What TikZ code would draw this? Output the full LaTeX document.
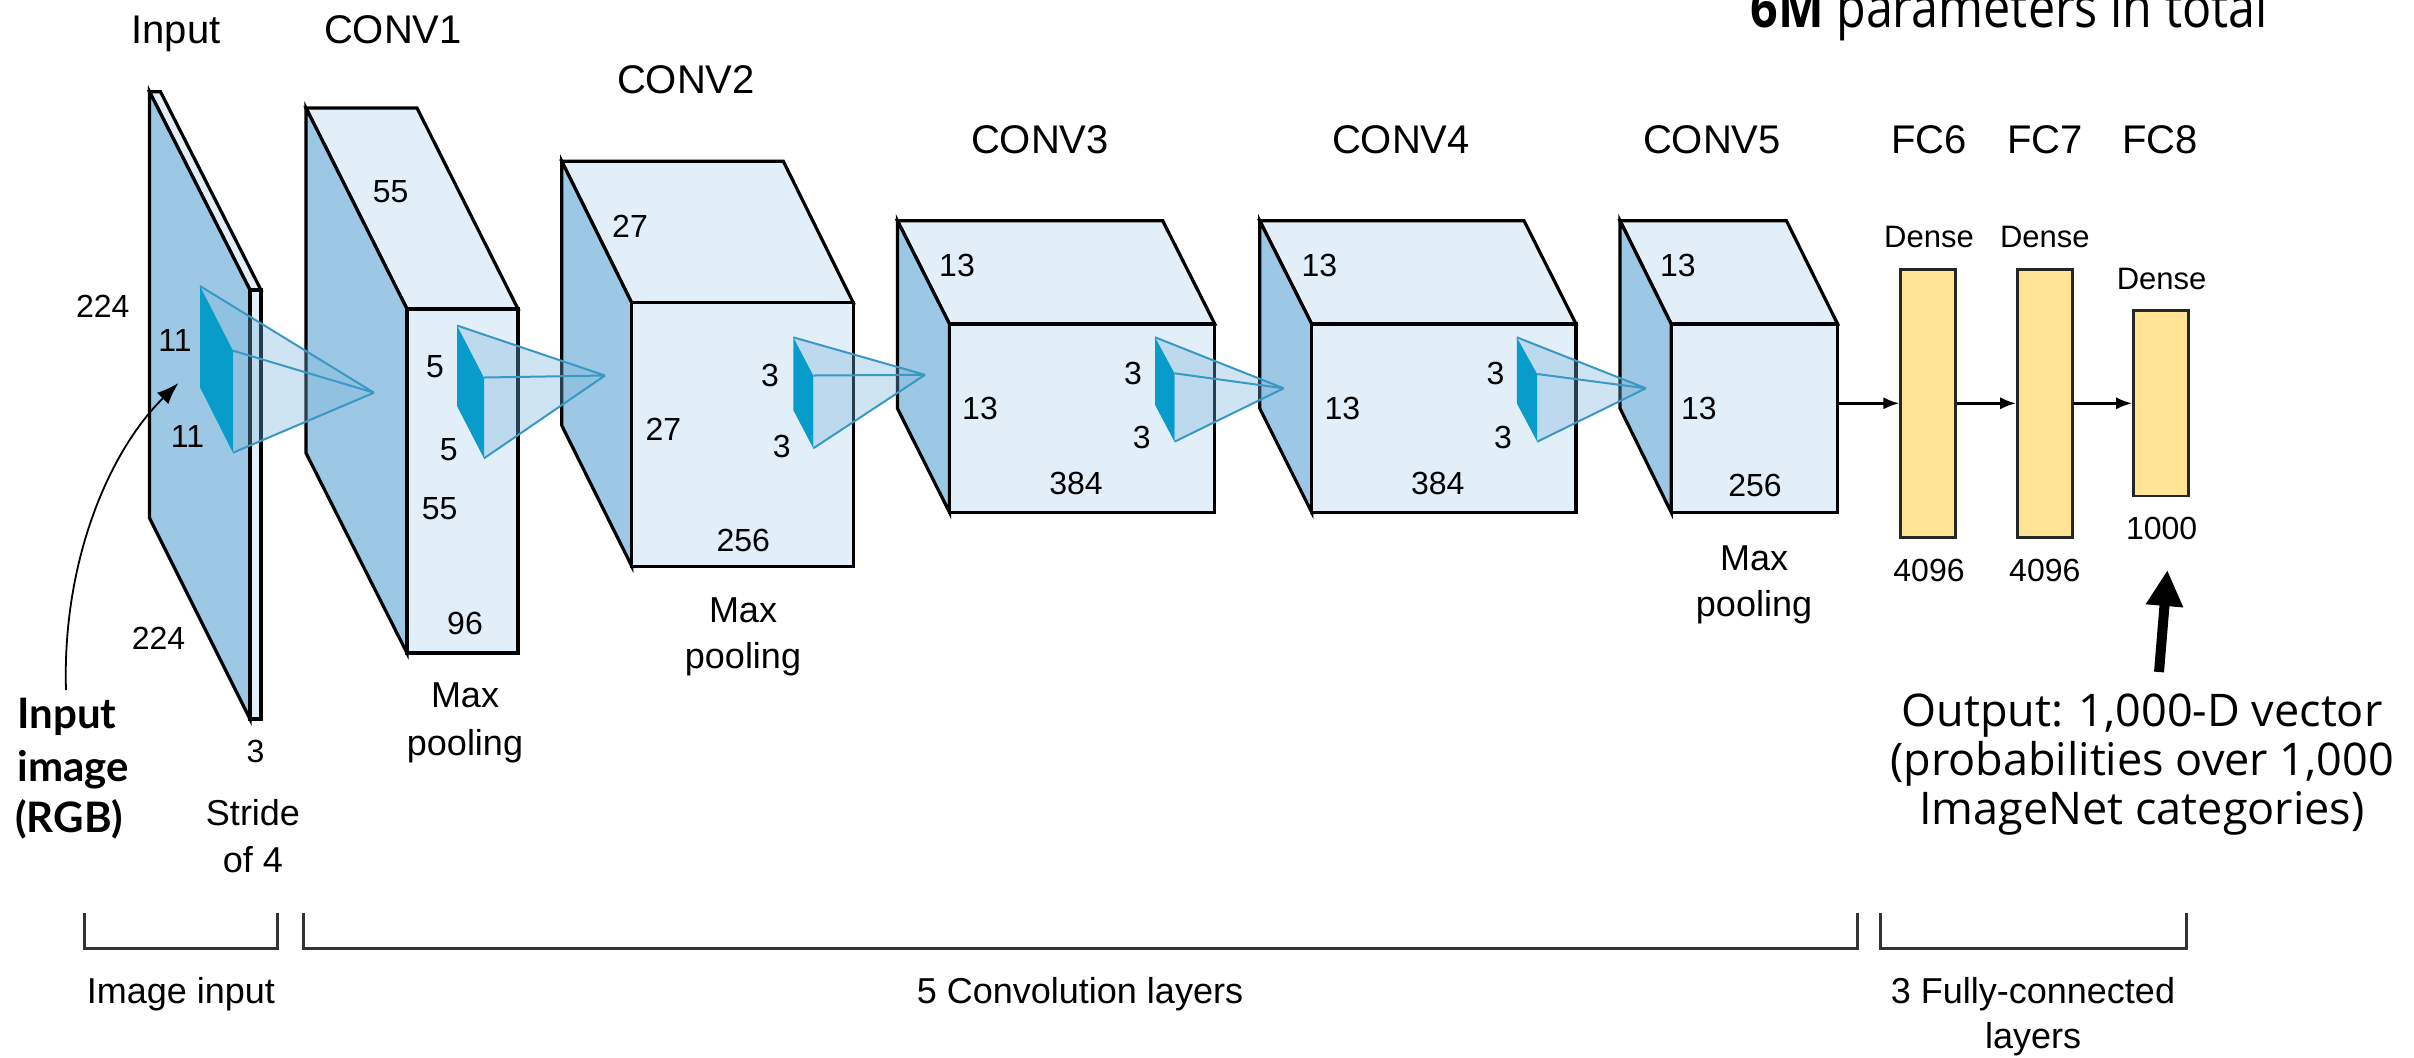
\documentclass[tikz,border=0pt]{standalone}
\usepackage{fontspec}
\setmainfont{Liberation Sans}
\newfontfamily\segoe{Open Sans}
\newfontfamily\gillb{Lato}
\usetikzlibrary{arrows.meta}
\definecolor{facelight}{RGB}{226,238,248}
\definecolor{faceblue}{RGB}{157,200,229}
\definecolor{kdarkc}{RGB}{8,156,202}
\definecolor{pyredge}{RGB}{58,152,196}
\definecolor{pyrfillc}{RGB}{120,180,220}
\definecolor{fcyellow}{RGB}{255,228,150}
\tikzset{
 lbl/.style={font=\fontsize{20}{24}\selectfont, inner sep=0pt, anchor=base},
 numlbl/.style={font=\fontsize{16}{19}\selectfont, inner sep=0pt},
 midlbl/.style={font=\fontsize{18}{22}\selectfont, inner sep=0pt, anchor=base},
 denselbl/.style={font=\fontsize{15.5}{18}\selectfont, inner sep=0pt, anchor=base},
 blkedge/.style={draw=black, line width=1.6pt},
 lightface/.style={blkedge, fill=facelight},
 blueface/.style={blkedge, fill=faceblue},
 kdark/.style={fill=kdarkc},
 pyrfill/.style={fill=pyrfillc, fill opacity=0.35},
 pyrline/.style={draw=pyredge, line width=1pt},
 fcbox/.style={draw=black!85, line width=1.3pt, fill=fcyellow, minimum width=27.5pt, inner sep=0pt},
 fcarrow/.style={-{Latex[length=8pt,width=6pt]}, line width=1.2pt},
 inarrow/.style={-{Latex[length=11pt,width=8pt]}, line width=0.9pt},
 bigarrow/.style={-{Triangle[length=18pt,width=17.5pt]}, line width=5pt},
 bracket/.style={draw=black!80, line width=1.5pt},
 boldlbl/.style={font=\gillb\bfseries\fontsize{21}{25}\selectfont, inner sep=0pt, anchor=base west},
 outtxt/.style={font=\segoe\fontsize{22.5}{24.5}\selectfont, inner sep=0pt, anchor=base},
}
\newcommand\drawblock[7]{%
  \pgfmathsetmacro\bxr{#1+#5-#4}
  \path[lightface] (#1,#2) -- (\bxr,#2) -- (#5,#6) -- (#4,#6) -- cycle;
  \path[blueface] (#1,#2) -- (#4,#6) -- (#4,#7) -- (#1,#3) -- cycle;
  \path[lightface] (#4,#6) rectangle (#5,#7);
}
\newcommand\kdarkquad[1]{\fill[kdark] (#1a) -- (#1b) -- (#1c) -- (#1d) -- cycle;}
\newcommand\kpyr[1]{%
  \fill[pyrfill] (#1a) -- (#1p) -- (#1c) -- (#1b) -- cycle;
  \draw[pyrline] (#1a) -- (#1p) (#1b) -- (#1p) (#1c) -- (#1p);
}
\begin{document}
\begin{tikzpicture}[x=0.5pt,y=-0.5pt]
\useasboundingbox (0,0) rectangle (2414,1057);
\clip (0,0) rectangle (2414,1057);
\fill[white] (0,0) rectangle (2414,1057);

% kernel coordinates
\coordinate (k0a) at (200,286);   \coordinate (k0b) at (233,350.7);
\coordinate (k0c) at (233,452.7); \coordinate (k0d) at (200,387.3);
\coordinate (k0p) at (374,392.7);
\coordinate (k1a) at (457,325.5); \coordinate (k1b) at (484,377.5);
\coordinate (k1c) at (484,458.3); \coordinate (k1d) at (457,406);
\coordinate (k1p) at (605,375.5);
\coordinate (k2a) at (793.3,337.3); \coordinate (k2b) at (813.3,375.5);
\coordinate (k2c) at (813.3,448.3); \coordinate (k2d) at (793.3,410);
\coordinate (k2p) at (925,374.8);
\coordinate (k3a) at (1155.1,337.3); \coordinate (k3b) at (1174.5,373.3);
\coordinate (k3c) at (1174.5,441.7); \coordinate (k3d) at (1155.1,405);
\coordinate (k3p) at (1283.7,388.3);
\coordinate (k4a) at (1516.8,337.3); \coordinate (k4b) at (1537.2,374);
\coordinate (k4c) at (1537.2,441.7); \coordinate (k4d) at (1516.8,403.3);
\coordinate (k4p) at (1645.9,388.3);

% blocks and kernels
\drawblock{149.5}{91.7}{518}{250}{261}{290}{719}
\kdarkquad{k0}
\drawblock{306}{108}{453}{407}{518}{309}{653}
\kpyr{k0}
\kdarkquad{k1}
\drawblock{561.7}{161.2}{425.3}{631.7}{853.3}{302.8}{566.1}
\kpyr{k1}
\kdarkquad{k2}
\drawblock{897.4}{220.7}{408.3}{949.5}{1214.8}{324}{512.3}
\kpyr{k2}
\kdarkquad{k3}
\drawblock{1259.7}{220.7}{408.3}{1311.7}{1576}{324}{512.3}
\kpyr{k3}
\kdarkquad{k4}
\drawblock{1620}{220.7}{408.3}{1671.2}{1837.6}{324}{512.3}
\kpyr{k4}
\coordinate (c5r) at (1837.6,403.3);

% FC layers
\node[fcbox, minimum height=134pt] (fc6) at (1928.2,403.3) {};
\node[fcbox, minimum height=134pt] (fc7) at (2045,403.3) {};
\node[fcbox, minimum height=92.6pt] (fc8) at (2161,403.3) {};
\draw[fcarrow] (c5r) -- (fc6.west);
\draw[fcarrow] (fc6.east) -- (fc7.west);
\draw[fcarrow] (fc7.east) -- (fc8.west);

% top labels
\node[lbl] (tInput) at (176,43) {Input};
\node[lbl] (tC1) at (393,43) {CONV1};
\node[lbl] (tC2) at (686,93) {CONV2};
\node[lbl] (tC3) at (1040,153) {CONV3};
\node[lbl] (tC4) at (1401,153) {CONV4};
\node[lbl] (tC5) at (1712,153) {CONV5};
\node[lbl] (tF6) at (1929,153) {FC6};
\node[lbl] (tF7) at (2045,153) {FC7};
\node[lbl] (tF8) at (2160,153) {FC8};
\node[anchor=base west, inner sep=0pt, font=\segoe\fontsize{28}{32}\selectfont] (title) at (1750,27) {\scalebox{0.865}[1]{\textbf{6M} parameters in total}};

% input labels
\node[numlbl] (n224a) at (102.7,306.7) {224};
\node[numlbl] (n11a) at (175,340) {11};
\node[numlbl] (n11b) at (187.5,436.7) {11};
\node[numlbl] (n224b) at (158.5,638.3) {224};
\node[numlbl] (n3in) at (255.4,751.7) {3};
\node[midlbl] (stride1) at (253,825) {Stride};
\node[midlbl] (stride2) at (253,872) {of 4};

% CONV1 labels
\node[numlbl] (c1a) at (390.6,191.7) {55};
\node[numlbl] (c1b) at (435,366.7) {5};
\node[numlbl] (c1c) at (448.7,450) {5};
\node[numlbl] (c1d) at (439.7,508.3) {55};
\node[numlbl] (c1e) at (465,623.3) {96};
\node[midlbl] (mp1a) at (465,707) {Max};
\node[midlbl] (mp1b) at (465,755) {pooling};

% CONV2 labels
\node[numlbl] (c2a) at (630,226.3) {27};
\node[numlbl] (c2b) at (663.3,429.1) {27};
\node[numlbl] (c2c) at (770,375.5) {3};
\node[numlbl] (c2d) at (781.7,446.3) {3};
\node[numlbl] (c2e) at (743.3,540) {256};
\node[midlbl] (mp2a) at (743,622) {Max};
\node[midlbl] (mp2b) at (743,668) {pooling};

% CONV3 labels
\node[numlbl] (c3a) at (957,265) {13};
\node[numlbl] (c3b) at (980,408.3) {13};
\node[numlbl] (c3c) at (1133,373.3) {3};
\node[numlbl] (c3d) at (1141.8,437.3) {3};
\node[numlbl] (c3e) at (1076,483.3) {384};

% CONV4 labels
\node[numlbl] (c4a) at (1319.4,265) {13};
\node[numlbl] (c4b) at (1342.3,408.3) {13};
\node[numlbl] (c4c) at (1495.4,373.3) {3};
\node[numlbl] (c4d) at (1503,437.3) {3};
\node[numlbl] (c4e) at (1437.8,483.3) {384};

% CONV5 labels
\node[numlbl] (c5a) at (1677.8,265) {13};
\node[numlbl] (c5b) at (1698.8,408.3) {13};
\node[numlbl] (c5e) at (1755,485) {256};
\node[midlbl] (mp5a) at (1754,570) {Max};
\node[midlbl] (mp5b) at (1754,616) {pooling};

% FC labels
\node[denselbl] (d6) at (1929,247.7) {Dense};
\node[denselbl] (d7) at (2044.8,247.7) {Dense};
\node[denselbl] (d8) at (2161.6,289.3) {Dense};
\node[numlbl] (f6n) at (1929,570) {4096};
\node[numlbl] (f7n) at (2044.8,570) {4096};
\node[numlbl] (f8n) at (2161.6,528.3) {1000};

% input image label and arrow
\node[boldlbl] (ii1) at (17,728) {Input};
\node[boldlbl] (ii2) at (17,781) {image};
\node[boldlbl] (ii3) at (15,832) {(RGB)};
\coordinate (arrstart) at (66,690);
\coordinate (arrend) at (178.5,383);
\draw[inarrow] (arrstart) .. controls (62,560) and (110,450) .. (arrend);

% output text and arrow
\node[outtxt] (o1) at (2142,726) {Output: 1,000-D vector};
\node[outtxt] (o2) at (2142,775) {(probabilities over 1,000};
\node[outtxt] (o3) at (2142,824) {ImageNet categories)};
\coordinate (otail) at (2159,672);
\coordinate (otip) at (2167.4,570);
\draw[bigarrow] (otail) -- (otip);

% brackets
\draw[bracket] (84.6,913) |- (277,948) -- (277,913);
\draw[bracket] (303,913) |- (1857,948) -- (1857,913);
\draw[bracket] (1880,913) |- (2186,948) -- (2186,913);
\node[midlbl] (b1) at (181,1003) {Image input};
\node[midlbl] (b2) at (1080,1003) {5 Convolution layers};
\node[midlbl] (b3) at (2033,1003) {3 Fully-connected};
\node[midlbl] (b3b) at (2033,1048) {layers};
\end{tikzpicture}
\end{document}
